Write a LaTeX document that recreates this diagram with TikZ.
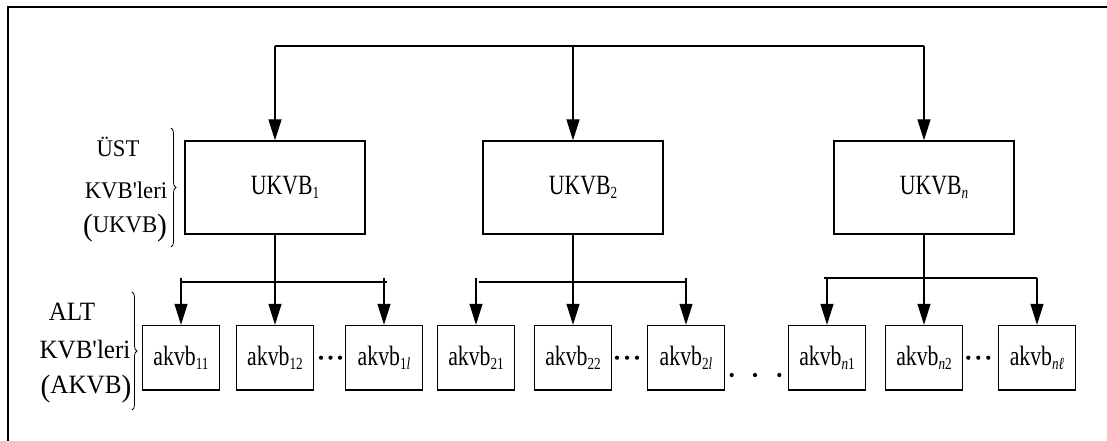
\documentclass[tikz,border=0pt]{standalone}
\usepackage{fontspec}
\setmainfont{Liberation Serif}
\newfontfamily\boxfont{Liberation Serif}[FakeStretch=0.78]
\newfontfamily\labfont{Liberation Serif}[FakeStretch=0.95,Ligatures=TeXOff]
\usetikzlibrary{arrows.meta,decorations.pathreplacing}
\newcommand{\subtxt}[1]{\raisebox{-4bp}{\fontsize{17}{17}\selectfont #1}}
\newcommand{\bigpar}[1]{\raisebox{-3bp}{\fontsize{31}{31}\selectfont #1}}
\begin{document}
\begin{tikzpicture}[x=1bp,y=-1bp,line width=1.25bp,
  arr/.style={-{Triangle[length=21bp,width=13bp]}},
  ubox/.style={draw,minimum width=180bp,minimum height=93bp,inner sep=0pt,font=\boxfont\fontsize{28}{28}\selectfont},
  abox/.style={draw,minimum width=76.5bp,minimum height=64.5bp,inner sep=0pt,font=\boxfont\fontsize{28}{28}\selectfont},
  labup/.style={inner sep=0pt,font=\labfont\fontsize{24}{24}\selectfont},
  labdn/.style={inner sep=0pt,font=\labfont\fontsize{26.5}{26.5}\selectfont},
  bracestyle/.style={decorate,decoration={brace,amplitude=5bp},line width=0.8bp},
  dotstyle/.style={fill=black}]
\useasboundingbox (0,0) rectangle (1107,441);
% frame
\draw (8,441) -- (8,7) -- (1107,7);
% upper boxes
\node[ubox] (u1) at (275,187.5) {\hspace*{20bp}UKVB\subtxt{1}};
\node[ubox] (u2) at (573,187.5) {\hspace*{20bp}UKVB\subtxt{2}};
\node[ubox] (un) at (924,187.5) {\hspace*{20bp}UKVB\subtxt{\itshape n}};
% lower boxes
\node[abox] (b11) at (181,357.7) {akvb\subtxt{11}};
\node[abox] (b12) at (275,357.7) {akvb\subtxt{12}};
\node[abox] (b1l) at (384,357.7) {akvb\subtxt{1\itshape l}};
\node[abox] (b21) at (476,357.7) {akvb\subtxt{21}};
\node[abox] (b22) at (573,357.7) {akvb\subtxt{22}};
\node[abox] (b2l) at (686,357.7) {akvb\subtxt{2\itshape l}};
\node[abox] (bn1) at (827,357.7) {akvb\subtxt{\itshape n\upshape 1}};
\node[abox] (bn2) at (924,357.7) {akvb\subtxt{\itshape n\upshape 2}};
\node[abox] (bnl) at (1037,357.7) {akvb\subtxt{\itshape nℓ}};
% top bus
\coordinate (tb) at (0,46);
\draw (u1.north|-tb) -- (un.north|-tb);
\draw[arr] (u1.north|-tb) -- (u1.north);
\draw[arr] (u2.north|-tb) -- (u2.north);
\draw[arr] (un.north|-tb) -- (un.north);
% stems
\draw[arr] (u1.south) -- (b12.north);
\draw[arr] (u2.south) -- (b22.north);
\draw[arr] (un.south) -- (bn2.north);
% sub bus 1
\coordinate (s1) at (0,282);
\coordinate (s1t) at (0,278);
\draw (b11.north|-s1) -- ([xshift=3bp]b1l.north|-s1);
\draw[arr] (b11.north|-s1t) -- (b11.north);
\draw[arr] (b1l.north|-s1t) -- (b1l.north);
% sub bus 2
\draw ([xshift=2.5bp]b21.north|-s1) -- (b2l.north|-s1);
\draw[arr] (b21.north|-s1t) -- (b21.north);
\draw[arr] (b2l.north|-s1t) -- (b2l.north);
% sub bus n
\coordinate (sn) at (0,278);
\draw ([xshift=-3bp]bn1.north|-sn) -- (bnl.north|-sn);
\draw[arr] (bn1.north|-sn) -- (bn1.north);
\draw[arr] (bnl.north|-sn) -- (bnl.north);
% dots
\foreach \x in {321,330.5,340} \fill[dotstyle] (\x,357.7) circle (2.1bp);
\foreach \x in {617,627,637} \fill[dotstyle] (\x,357.7) circle (2.1bp);
\foreach \x in {968.3,978.3,988.3} \fill[dotstyle] (\x,357.7) circle (2.1bp);
\foreach \x in {731.7,755,779.3} \fill[dotstyle] (\x,375) circle (2.1bp);
% left labels
\node[labup] (ust) at (118,147) {ÜST};
\node[labup] (kvbu) at (126,190) {KVB'leri};
\node[labup] (ukvb) at (125,228) {\bigpar{(}UKVB\bigpar{)}};
\draw[bracestyle] (171,128) -- (171,247);
\node[labdn] (alt) at (72,312) {ALT};
\node[labdn] (kvbd) at (85,350) {KVB'leri};
\node[labdn] (akvb) at (86,389) {\bigpar{(}AKVB\bigpar{)}};
\draw[bracestyle] (132,292) -- (132,410);
\end{tikzpicture}
\end{document}
